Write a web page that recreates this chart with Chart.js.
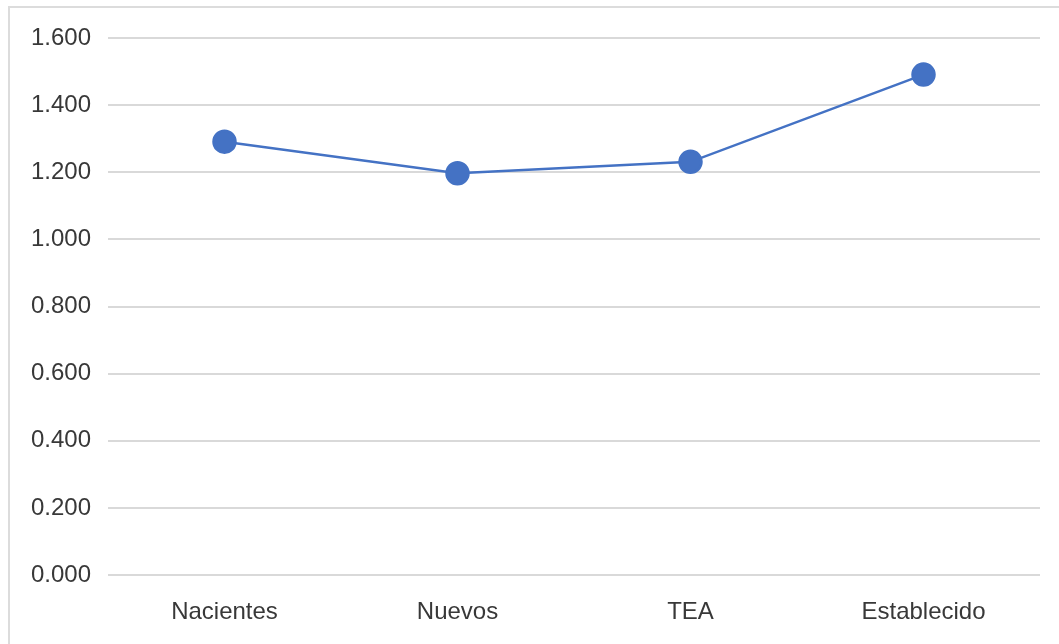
<!DOCTYPE html>
<html>
<head>
<meta charset="utf-8">
<script src="https://cdn.jsdelivr.net/npm/chart.js@4"></script>
<style>
  body { margin: 0; background: #fff; overflow: hidden; }
  #frame { position: absolute; left: 8px; top: 6px; width: 1100px; height: 700px; border: 2px solid #dcdcdc; }
  canvas { position: absolute; left: 0; top: 0; }
</style>
</head>
<body>
<div id="frame"></div>
<canvas id="myChart" width="1059" height="644"></canvas>
<script>
const categories = ["Nacientes", "Nuevos", "TEA", "Establecido"];
const values = [1.291, 1.197, 1.231, 1.491];
const yTicks = [0, 0.2, 0.4, 0.6, 0.8, 1.0, 1.2, 1.4, 1.6];

new Chart(document.getElementById("myChart").getContext("2d"), {
  type: "line",
  data: {
    labels: categories,
    datasets: [{
      data: values,
      borderColor: "#4472c4",
      backgroundColor: "#4472c4",
      borderWidth: 2.5,
      pointRadius: 11,
      pointHoverRadius: 11,
      tension: 0
    }]
  },
  options: {
    responsive: false,
    animation: false,
    layout: { padding: { top: 38, right: 19, bottom: 0, left: 0 } },
    plugins: {
      legend: { display: false },
      tooltip: { enabled: false }
    },
    scales: {
      x: {
        offset: true,
        grid: { display: false, drawTicks: false },
        border: { display: false },
        ticks: { color: "#383838", font: { family: "Liberation Sans", size: 24 }, padding: 23 },
        afterFit: (scale) => { scale.height = 69; }
      },
      y: {
        min: 0,
        max: 1.6,
        afterBuildTicks: (scale) => { scale.ticks = yTicks.map(v => ({ value: v })); },
        grid: { color: "#d9d9d9", lineWidth: 2, drawTicks: false },
        border: { display: false },
        ticks: {
          color: "#383838",
          font: { family: "Liberation Sans", size: 24 },
          padding: 17,
          callback: (v) => Number(v).toFixed(3)
        },
        afterFit: (scale) => { scale.width = 108; }
      }
    }
  }
});
</script>
</body>
</html>
